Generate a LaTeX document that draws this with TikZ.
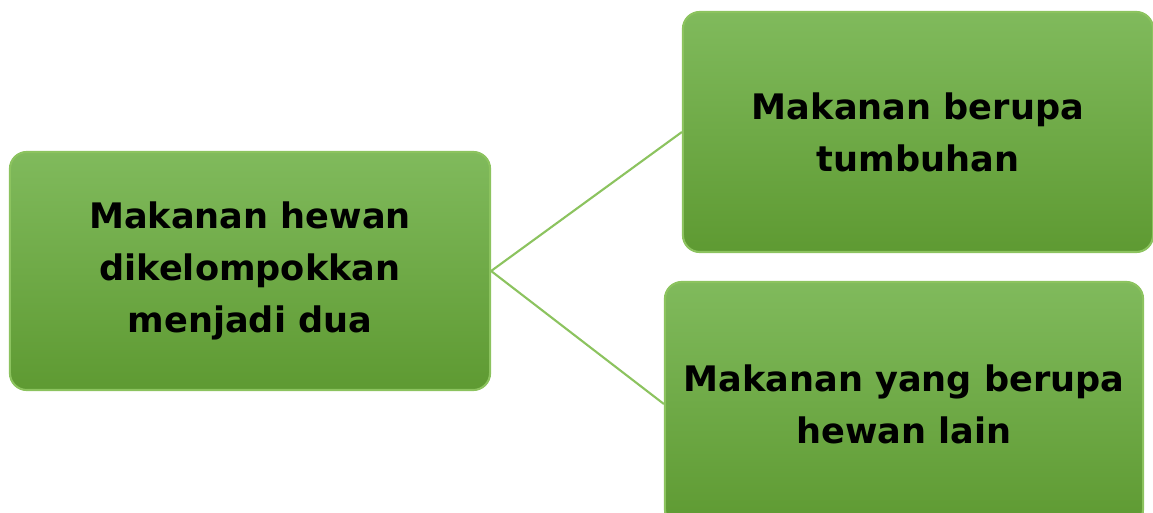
\documentclass[tikz,border=0pt]{standalone}
\usepackage{fontspec}
\setmainfont{DejaVu Sans}
\usetikzlibrary{positioning}
\definecolor{leafTop}{RGB}{128,186,92}
\definecolor{leafBot}{RGB}{94,154,50}
\definecolor{leafLine}{RGB}{140,195,95}
\tikzstyle{topic} = [rectangle, rounded corners=12pt, draw=leafLine, line width=1.5pt, top color=leafTop, bottom color=leafBot, text centered, align=center, font=\bfseries\fontsize{25}{37}\selectfont, inner sep=5pt]
\tikzstyle{branch} = [leafLine, line width=1.5pt]

\begin{document}
\begin{tikzpicture}[x=0.025cm, y=-0.025cm]
\useasboundingbox (0,0) rectangle (1153,513);
\clip (0,0) rectangle (1153,513);

% Nodes (Groups)
\node[topic, minimum width=12cm, minimum height=5.95cm] (main) at (250,271) {Makanan hewan\\dikelompokkan\\menjadi dua};
\node[topic, minimum width=11.75cm, minimum height=6cm] (plant) at (918,132) {Makanan berupa\\tumbuhan};
\node[topic, minimum width=11.95cm, minimum height=6.1cm] (prey) at (904,404) {Makanan yang berupa\\hewan lain};

% Lines (Branches)
\draw[branch] (main.east) -- (plant.west);
\draw[branch] (main.east) -- (prey.west);

\end{tikzpicture}
\end{document}
